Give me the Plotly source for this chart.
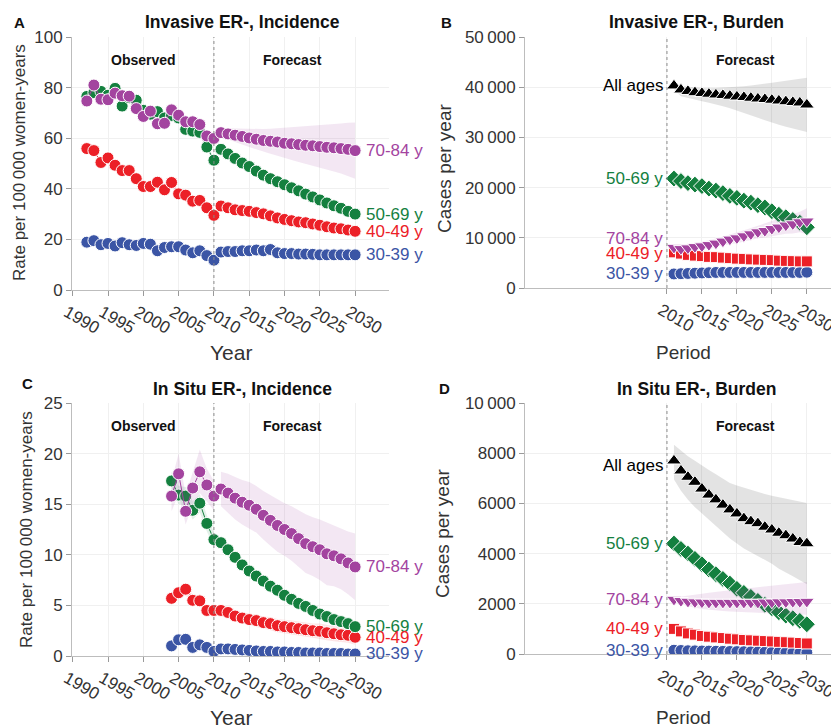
import plotly.graph_objects as go

# ---------------- data ----------------
obs_years_A = [1992, 1993, 1994, 1995, 1996, 1997, 1998, 1999, 2000, 2001,
               2002, 2003, 2004, 2005, 2006, 2007, 2008, 2009, 2010]
obs_years_C = [2004, 2005, 2006, 2007, 2008, 2009, 2010]
fc_years = [2011, 2012, 2013, 2014, 2015, 2016, 2017, 2018, 2019, 2020,
            2021, 2022, 2023, 2024, 2025, 2026, 2027, 2028, 2029, 2030]

age_groups = ["30-39 y", "40-49 y", "50-69 y", "70-84 y", "All ages"]

# Panel A: Invasive ER-, incidence (rate per 100 000 women-years)
A_obs_30 = [18.9, 19.5, 17.9, 18.4, 17.4, 18.7, 17.9, 17.6, 18.4, 18.1, 15.5, 16.8, 17.1, 17.1, 15.8, 14.7, 15.5, 13.6, 11.8]
A_obs_40 = [55.9, 55.1, 50.4, 52.2, 49.3, 47.2, 47.2, 44.0, 40.9, 40.9, 42.6, 39.6, 42.5, 38.0, 37.5, 35.1, 35.4, 32.5, 29.5]
A_obs_50 = [76.5, 78.0, 78.5, 77.0, 79.7, 72.7, 76.0, 75.0, 71.0, 69.5, 70.5, 68.0, 69.0, 68.0, 63.5, 62.8, 62.3, 56.5, 51.3]
A_obs_70 = [74.7, 81.0, 75.4, 75.2, 77.8, 76.8, 76.6, 71.7, 68.6, 70.7, 65.7, 65.9, 71.2, 69.1, 66.5, 66.5, 65.4, 60.9, 59.9]
A_obs_50_lo = [75.4, 76.9, 77.4, 75.9, 78.6, 71.6, 74.9, 73.9, 69.9, 68.4, 69.4, 66.9, 67.9, 66.9, 62.4, 61.7, 61.2, 55.5, 50.3]
A_obs_50_hi = [77.6, 79.1, 79.6, 78.1, 80.8, 73.8, 77.1, 76.1, 72.1, 70.6, 71.6, 69.1, 70.1, 69.1, 64.6, 63.9, 63.4, 57.5, 52.3]
A_obs_70_lo = [73.3, 79.0, 73.8, 73.6, 76.2, 75.2, 75.0, 70.2, 67.1, 69.1, 64.2, 64.4, 69.6, 67.6, 65.0, 65.0, 63.9, 59.5, 58.5]
A_obs_70_hi = [76.1, 83.0, 77.0, 76.8, 79.4, 78.4, 78.2, 73.2, 70.1, 72.3, 67.2, 67.4, 72.8, 70.6, 68.0, 68.0, 66.9, 62.3, 61.3]

A_fc_30 = [15.0, 15.2, 15.2, 15.5, 15.5, 15.8, 15.5, 16.0, 14.7, 14.4, 14.4, 14.2, 14.2, 14.1, 13.9, 13.9, 13.9, 13.9, 13.9, 13.9]
A_fc_40 = [33.2, 32.5, 31.7, 31.4, 31.1, 30.6, 30.1, 29.3, 28.5, 27.9, 27.4, 26.9, 26.6, 26.1, 25.6, 25.0, 24.5, 24.2, 23.7, 23.2]
A_fc_50 = [55.6, 53.8, 52.0, 50.2, 48.8, 47.0, 45.4, 44.0, 42.8, 41.6, 40.4, 39.2, 37.9, 36.8, 35.6, 34.4, 33.3, 32.3, 31.1, 30.0]
A_fc_70 = [62.2, 61.7, 61.2, 60.7, 60.1, 59.6, 59.1, 58.8, 58.5, 58.0, 57.8, 57.5, 57.2, 57.0, 56.7, 56.4, 56.2, 55.9, 55.6, 55.1]
A_fc_70_lo = [60.4, 59.5, 58.6, 57.6, 56.5, 55.6, 54.6, 53.9, 53.1, 52.1, 51.4, 50.6, 49.8, 49.1, 48.3, 47.5, 46.8, 46.0, 45.1, 44.0]
A_fc_70_hi = [64.0, 63.9, 63.8, 63.8, 63.7, 63.6, 63.6, 63.7, 63.9, 63.9, 64.2, 64.4, 64.6, 64.9, 65.1, 65.3, 65.6, 65.8, 66.1, 66.2]

# Panel C: In situ ER-, incidence
C_obs_30 = [1.0, 1.6, 1.65, 0.85, 1.1, 0.85, 0.45]
C_obs_40 = [5.7, 6.25, 6.6, 5.5, 5.45, 4.5, 4.5]
C_obs_50 = [17.3, 15.9, 15.8, 14.4, 15.1, 13.1, 11.5]
C_obs_70 = [15.8, 18.0, 14.3, 16.6, 18.2, 16.9, 15.8]
C_obs_40_lo = [5.2, 5.7, 6.0, 5.0, 5.0, 4.1, 4.1]
C_obs_40_hi = [6.2, 6.8, 7.2, 6.0, 6.0, 4.9, 4.9]
C_obs_50_lo = [16.4, 15.0, 14.9, 13.5, 14.2, 12.3, 10.8]
C_obs_50_hi = [18.2, 16.8, 16.7, 15.3, 16.0, 13.9, 12.2]
C_obs_70_lo = [14.3, 16.0, 13.0, 15.0, 16.1, 15.3, 14.4]
C_obs_70_hi = [17.3, 20.0, 15.9, 18.2, 20.4, 18.5, 17.3]

C_fc_30 = [0.7, 0.7, 0.65, 0.6, 0.55, 0.5, 0.45, 0.45, 0.4, 0.4, 0.35, 0.35, 0.3, 0.3, 0.3, 0.25, 0.25, 0.25, 0.2, 0.2]
C_fc_40 = [4.5, 4.3, 3.95, 3.75, 3.6, 3.5, 3.3, 3.2, 3.0, 2.9, 2.8, 2.7, 2.6, 2.5, 2.45, 2.3, 2.2, 2.1, 2.05, 1.85]
C_fc_50 = [11.2, 10.5, 9.75, 9.0, 8.4, 7.9, 7.4, 6.9, 6.5, 6.0, 5.6, 5.2, 4.9, 4.5, 4.15, 3.9, 3.6, 3.4, 3.2, 2.9]
C_fc_70 = [16.5, 16.1, 15.6, 15.2, 14.9, 14.5, 13.9, 13.4, 12.9, 12.5, 12.1, 11.6, 11.1, 10.8, 10.5, 10.1, 9.9, 9.6, 9.2, 8.8]
C_fc_40_lo = [4.0, 3.8, 3.45, 3.2, 3.05, 2.9, 2.7, 2.55, 2.35, 2.2, 2.1, 2.0, 1.9, 1.8, 1.7, 1.55, 1.45, 1.35, 1.3, 1.1]
C_fc_40_hi = [5.0, 4.8, 4.5, 4.3, 4.2, 4.1, 3.9, 3.85, 3.65, 3.6, 3.5, 3.4, 3.3, 3.2, 3.2, 3.05, 2.95, 2.85, 2.8, 2.6]
C_fc_50_lo = [10.5, 9.9, 9.2, 8.5, 8.0, 7.5, 7.0, 6.6, 6.2, 5.7, 5.3, 5.0, 4.7, 4.3, 4.0, 3.7, 3.4, 3.2, 3.0, 2.7]
C_fc_50_hi = [11.9, 11.1, 10.3, 9.5, 8.8, 8.3, 7.8, 7.2, 6.8, 6.3, 5.9, 5.4, 5.1, 4.7, 4.3, 4.1, 3.8, 3.6, 3.4, 3.1]
C_fc_70_lo = [14.8, 14.2, 13.5, 13.0, 12.6, 12.2, 11.5, 10.9, 10.3, 9.9, 9.4, 8.8, 8.2, 7.9, 7.5, 7.0, 6.9, 6.6, 6.1, 5.5]
C_fc_70_hi = [18.2, 18.0, 17.7, 17.4, 17.2, 16.8, 16.3, 15.9, 15.5, 15.1, 14.8, 14.4, 14.0, 13.7, 13.5, 13.2, 12.9, 12.6, 12.3, 12.1]

# Panel B: Invasive ER-, burden (cases per year)
B_30 = [2800, 2850, 2900, 2950, 3000, 3050, 3100, 3100, 3100, 3100, 3100, 3100, 3100, 3100, 3100, 3100, 3100, 3100, 3100, 3150]
B_40 = [7100, 6850, 6600, 6450, 6350, 6200, 6150, 6050, 5950, 5850, 5800, 5700, 5650, 5600, 5550, 5450, 5400, 5350, 5300, 5300]
B_50 = [21800, 21300, 20900, 20600, 20300, 19800, 19400, 18900, 18350, 17950, 17400, 17000, 16500, 16050, 15300, 14600, 14100, 13550, 13000, 12100]
B_50_lo = [21500, 20950, 20500, 20150, 19800, 19250, 18800, 18250, 17650, 17200, 16600, 16150, 15600, 15100, 14300, 13550, 13000, 12400, 11800, 10850]
B_50_hi = [22100, 21650, 21300, 21050, 20800, 20350, 20000, 19550, 19050, 18700, 18200, 17850, 17400, 17000, 16300, 15650, 15200, 14700, 14200, 13350]
B_70 = [8050, 7800, 7950, 8200, 8350, 8600, 8900, 9300, 9700, 9950, 10350, 10750, 11150, 11400, 11800, 12100, 12500, 12750, 13150, 13300]
B_70_lo = [7700, 7350, 7400, 7600, 7650, 7850, 8050, 8400, 8750, 8900, 9200, 9550, 9900, 10050, 10350, 10500, 10800, 10850, 11100, 10700]
B_70_hi = [8400, 8300, 8500, 8850, 9050, 9400, 9750, 10200, 10650, 11000, 11500, 11950, 12400, 12800, 13300, 13700, 14200, 14700, 15200, 15900]
B_all = [40300, 39500, 39200, 38950, 38800, 38650, 38500, 38400, 38250, 38100, 38000, 37850, 37700, 37600, 37450, 37300, 37150, 37000, 36900, 36500]
B_all_lo = [39500, 38200, 37800, 37500, 37200, 36900, 36600, 36200, 35800, 35300, 34900, 34400, 33900, 33400, 32900, 32500, 32100, 31700, 31400, 31100]
B_all_hi = [40600, 40300, 40100, 39950, 39800, 39800, 39850, 39900, 40000, 40100, 40200, 40350, 40500, 40700, 40900, 41100, 41300, 41500, 41700, 41900]

# Panel D: In situ ER-, burden
D_30 = [150, 140, 130, 125, 120, 115, 110, 105, 100, 95, 90, 85, 80, 75, 70, 65, 60, 55, 50, 50]
D_40 = [1000, 900, 820, 770, 720, 690, 660, 635, 610, 585, 560, 545, 530, 515, 500, 485, 470, 455, 440, 420]
D_40_lo = [950, 840, 750, 690, 630, 590, 550, 520, 490, 455, 420, 400, 380, 360, 335, 315, 290, 270, 245, 210]
D_40_hi = [1050, 960, 890, 850, 810, 790, 770, 750, 730, 715, 700, 690, 680, 670, 665, 655, 650, 640, 635, 630]
D_50 = [4400, 4185, 4000, 3790, 3575, 3365, 3180, 2990, 2805, 2595, 2435, 2275, 2115, 1960, 1825, 1665, 1530, 1425, 1320, 1185]
D_50_lo = [4300, 4080, 3890, 3680, 3460, 3250, 3060, 2870, 2680, 2470, 2300, 2140, 1980, 1820, 1680, 1520, 1380, 1270, 1160, 1020]
D_50_hi = [4500, 4290, 4110, 3900, 3690, 3480, 3300, 3110, 2930, 2720, 2570, 2410, 2250, 2100, 1970, 1810, 1680, 1580, 1480, 1350]
D_70 = [2170, 2120, 2090, 2070, 2060, 2050, 2050, 2050, 2050, 2050, 2050, 2050, 2050, 2060, 2060, 2070, 2070, 2080, 2080, 2090]
D_70_lo = [2090, 1980, 1900, 1840, 1790, 1760, 1730, 1710, 1690, 1670, 1650, 1640, 1630, 1620, 1610, 1600, 1590, 1580, 1570, 1560]
D_70_hi = [2250, 2280, 2320, 2360, 2400, 2440, 2480, 2510, 2540, 2570, 2600, 2630, 2660, 2690, 2720, 2750, 2780, 2810, 2840, 2870]
D_all = [7700, 7300, 7050, 6850, 6580, 6340, 6150, 5940, 5750, 5590, 5400, 5280, 5200, 5060, 4950, 4820, 4720, 4590, 4450, 4400]
D_all_lo = [6950, 6500, 6150, 5850, 5600, 5350, 5100, 4850, 4600, 4400, 4200, 4050, 3900, 3750, 3600, 3400, 3250, 3100, 2950, 2780]
D_all_hi = [8340, 8100, 7880, 7700, 7500, 7330, 7160, 7000, 6810, 6710, 6620, 6540, 6460, 6370, 6300, 6240, 6180, 6120, 6070, 6020]

rate_ticks_A = [0, 20, 40, 60, 80, 100]
rate_ticks_C = [0, 5, 10, 15, 20, 25]
burden_ticks_B = [0, 10000, 20000, 30000, 40000, 50000]
burden_text_B = ["0", "10\u2009000", "20\u2009000", "30\u2009000", "40\u2009000", "50\u2009000"]
burden_ticks_D = [0, 2000, 4000, 6000, 8000, 10000]
burden_text_D = ["0", "2000", "4000", "6000", "8000", "10\u2009000"]
year_ticks_full = [1990, 1995, 2000, 2005, 2010, 2015, 2020, 2025, 2030]
year_ticks_fc = [2010, 2015, 2020, 2025, 2030]

# ---------------- style ----------------
COL = {"30-39 y": "#3B55A5", "40-49 y": "#EC2027", "50-69 y": "#14803F",
       "70-84 y": "#A3449F", "All ages": "#000000"}
BAND = {"30-39 y": "rgba(59,85,165,0.12)", "40-49 y": "rgba(236,32,39,0.12)",
        "50-69 y": "rgba(20,128,63,0.12)", "70-84 y": "rgba(163,68,159,0.13)",
        "All ages": "rgba(0,0,0,0.11)"}
SYM = {"30-39 y": "circle", "40-49 y": "square", "50-69 y": "diamond",
       "70-84 y": "triangle-down", "All ages": "triangle-up"}
MSIZE = {"30-39 y": 12, "40-49 y": 11, "50-69 y": 13, "70-84 y": 13, "All ages": 13}
FONT = "Liberation Sans, Arial, Helvetica, sans-serif"
PAGE_OFF = 8          # default body margin of the page
W, H = 839 - PAGE_OFF, 728 - PAGE_OFF

fig = go.Figure()


def band(x, lo, hi, key, xa, ya):
    fig.add_trace(go.Scatter(x=list(x) + list(x)[::-1], y=list(hi) + list(lo)[::-1],
                             fill="toself", fillcolor=BAND[key], line=dict(width=0),
                             mode="lines", hoverinfo="skip", xaxis=xa, yaxis=ya))


def series(x, y, key, xa, ya, symbol="circle", size=12, lines=True):
    fig.add_trace(go.Scatter(x=x, y=y, mode="lines+markers" if lines else "markers",
                             line=dict(color=COL[key], width=1),
                             marker=dict(symbol=symbol, size=size, color=COL[key],
                                         line=dict(color="white", width=1)),
                             xaxis=xa, yaxis=ya, name=key))


# Panel A
series(obs_years_A, A_obs_30, "30-39 y", "x", "y")
series(fc_years, A_fc_30, "30-39 y", "x", "y")
series(obs_years_A, A_obs_40, "40-49 y", "x", "y")
series(fc_years, A_fc_40, "40-49 y", "x", "y")
band(obs_years_A, A_obs_50_lo, A_obs_50_hi, "50-69 y", "x", "y")
series(obs_years_A, A_obs_50, "50-69 y", "x", "y")
series(fc_years, A_fc_50, "50-69 y", "x", "y")
band(obs_years_A, A_obs_70_lo, A_obs_70_hi, "70-84 y", "x", "y")
series(obs_years_A, A_obs_70, "70-84 y", "x", "y")
band(fc_years, A_fc_70_lo, A_fc_70_hi, "70-84 y", "x", "y")
series(fc_years, A_fc_70, "70-84 y", "x", "y")

# Panel C
series(obs_years_C, C_obs_30, "30-39 y", "x3", "y3")
series(fc_years, C_fc_30, "30-39 y", "x3", "y3")
band(obs_years_C, C_obs_40_lo, C_obs_40_hi, "40-49 y", "x3", "y3")
band(fc_years, C_fc_40_lo, C_fc_40_hi, "40-49 y", "x3", "y3")
series(obs_years_C, C_obs_40, "40-49 y", "x3", "y3")
series(fc_years, C_fc_40, "40-49 y", "x3", "y3")
band(obs_years_C, C_obs_50_lo, C_obs_50_hi, "50-69 y", "x3", "y3")
band(fc_years, C_fc_50_lo, C_fc_50_hi, "50-69 y", "x3", "y3")
series(obs_years_C, C_obs_50, "50-69 y", "x3", "y3")
series(fc_years, C_fc_50, "50-69 y", "x3", "y3")
band(obs_years_C, C_obs_70_lo, C_obs_70_hi, "70-84 y", "x3", "y3")
band(fc_years, C_fc_70_lo, C_fc_70_hi, "70-84 y", "x3", "y3")
series(obs_years_C, C_obs_70, "70-84 y", "x3", "y3")
series(fc_years, C_fc_70, "70-84 y", "x3", "y3")

# Panel B
for key, vals, lo, hi in [("30-39 y", B_30, None, None), ("40-49 y", B_40, None, None),
                          ("50-69 y", B_50, B_50_lo, B_50_hi), ("70-84 y", B_70, B_70_lo, B_70_hi),
                          ("All ages", B_all, B_all_lo, B_all_hi)]:
    if lo is not None:
        band(fc_years, lo, hi, key, "x2", "y2")
    series(fc_years, vals, key, "x2", "y2", SYM[key], MSIZE[key], lines=False)

# Panel D
for key, vals, lo, hi in [("30-39 y", D_30, None, None), ("40-49 y", D_40, D_40_lo, D_40_hi),
                          ("50-69 y", D_50, D_50_lo, D_50_hi), ("70-84 y", D_70, D_70_lo, D_70_hi),
                          ("All ages", D_all, D_all_lo, D_all_hi)]:
    if lo is not None:
        band(fc_years, lo, hi, key, "x4", "y4")
    series(fc_years, vals, key, "x4", "y4", SYM[key], MSIZE[key], lines=False)

# ---------------- axes ----------------
def px_x(a, b):
    return [(a - PAGE_OFF) / W, min(1.0, (b - PAGE_OFF) / W)]


def px_y(top, bottom):
    return [1 - (bottom - PAGE_OFF) / H, 1 - (top - PAGE_OFF) / H]


common_x = dict(showline=True, linecolor="#bdbdbd", linewidth=1, ticks="outside",
                ticklen=5, tickcolor="#9a9a9a", showgrid=True, gridcolor="#f0f0f0",
                zeroline=False, tickangle=30, automargin=False, ticklabeloverflow="allow",
                ticklabelshift=-6, tickfont=dict(size=17, color="#333"))
common_y = dict(showline=True, linecolor="#bdbdbd", linewidth=1, ticks="outside",
                ticklen=5, tickcolor="#9a9a9a", showgrid=True, gridcolor="#f0f0f0",
                zeroline=False, automargin=False, tickfont=dict(size=17, color="#333"))

fig.update_layout(
    width=W, height=H, margin=dict(l=0, r=0, t=0, b=0, autoexpand=False),
    plot_bgcolor="white", paper_bgcolor="white", showlegend=False,
    font=dict(family=FONT, color="#222"),
    xaxis=dict(domain=px_x(72, 389), range=[1989.9, 2034.8], tickvals=year_ticks_full,
               anchor="y", **common_x),
    yaxis=dict(domain=px_y(37, 290), range=[0, 100], tickvals=rate_ticks_A,
               anchor="x", **common_y),
    xaxis2=dict(domain=px_x(525, 839), range=[1989.7, 2034.6], tickvals=year_ticks_fc,
                anchor="y2", **common_x),
    yaxis2=dict(domain=px_y(37, 288), range=[0, 50000], tickvals=burden_ticks_B,
                ticktext=burden_text_B, anchor="x2", **common_y),
    xaxis3=dict(domain=px_x(72, 389), range=[1989.9, 2034.8], tickvals=year_ticks_full,
                anchor="y3", **common_x),
    yaxis3=dict(domain=px_y(403, 656), range=[0, 25], tickvals=rate_ticks_C,
                anchor="x3", **common_y),
    xaxis4=dict(domain=px_x(525, 839), range=[1989.7, 2034.6], tickvals=year_ticks_fc,
                anchor="y4", **common_x),
    yaxis4=dict(domain=px_y(403, 654), range=[0, 10000], tickvals=burden_ticks_D,
                ticktext=burden_text_D, anchor="x4", **common_y),
)

# dotted separator at 2010
for xa, ya in [("x", "y"), ("x2", "y2"), ("x3", "y3"), ("x4", "y4")]:
    fig.add_shape(type="line", xref=xa, yref=ya + " domain", x0=2010, x1=2010, y0=0, y1=1,
                  line=dict(color="#8a8a8a", width=1, dash="dot"))

ann = []


def paper_text(text, x, y, size, bold=False, color="#111", angle=0, xanchor="center"):
    ann.append(dict(text="<b>%s</b>" % text if bold else text,
                    x=(x - PAGE_OFF) / W, y=1 - (y - PAGE_OFF) / H,
                    xref="paper", yref="paper", showarrow=False, xanchor=xanchor,
                    yanchor="middle", textangle=angle,
                    font=dict(size=size, color=color, family=FONT)))


# panel letters and titles
paper_text("A", 19, 22, 15, True)
paper_text("B", 446, 22, 15, True)
paper_text("C", 27, 383, 15, True)
paper_text("D", 445, 388, 15, True)
paper_text("Invasive ER-, Incidence", 242, 22, 17.5, True)
paper_text("Invasive ER-, Burden", 696, 22, 17.5, True)
paper_text("In Situ ER-, Incidence", 242, 389, 17.5, True)
paper_text("In Situ ER-, Burden", 696, 389, 17.5, True)

# axis titles
paper_text("Year", 231, 352, 21, color="#333")
paper_text("Year", 231, 717, 21, color="#333")
paper_text("Period", 683, 352, 19, color="#333")
paper_text("Period", 683, 717, 19, color="#333")
paper_text("Rate per 100\u2009000 women-years", 19, 163, 17, color="#333", angle=-90)
paper_text("Rate per 100\u2009000 women-years", 26, 530, 17, color="#333", angle=-90)
paper_text("Cases per year", 444, 168, 19, color="#333", angle=-90)
paper_text("Cases per year", 442, 533, 19, color="#333", angle=-90)

# Observed / Forecast
for xa, ya, has_obs in [("x", "y", True), ("x2", "y2", False), ("x3", "y3", True), ("x4", "y4", False)]:
    if has_obs:
        ann.append(dict(text="<b>Observed</b>", x=2000, y=0.95, xref=xa, yref=ya + " domain",
                        showarrow=False, font=dict(size=14, color="#111", family=FONT)))
    ann.append(dict(text="<b>Forecast</b>", x=2021.2, y=0.95, xref=xa, yref=ya + " domain",
                    showarrow=False, font=dict(size=14, color="#111", family=FONT)))

# series labels at end (incidence) / start (burden)
for key, a_last, c_last in [("70-84 y", A_fc_70, C_fc_70), ("50-69 y", A_fc_50, C_fc_50),
                            ("40-49 y", A_fc_40, C_fc_40), ("30-39 y", A_fc_30, C_fc_30)]:
    for xa, ya, vals in [("x", "y", a_last), ("x3", "y3", c_last)]:
        ann.append(dict(text=key, x=fc_years[-1], y=vals[-1], xref=xa, yref=ya,
                        xanchor="left", yanchor="middle", xshift=9, showarrow=False,
                        font=dict(size=17, color=COL[key], family=FONT)))

label_shift = {"x2": {"70-84 y": 9, "40-49 y": -1}, "x4": {"All ages": -5}}
for xa, ya, sets in [("x2", "y2", [("All ages", B_all), ("50-69 y", B_50), ("70-84 y", B_70),
                                   ("40-49 y", B_40), ("30-39 y", B_30)]),
                     ("x4", "y4", [("All ages", D_all), ("50-69 y", D_50), ("70-84 y", D_70),
                                   ("40-49 y", D_40), ("30-39 y", D_30)])]:
    for key, vals in sets:
        ysh = label_shift[xa].get(key, 0)
        ann.append(dict(text=key, x=2010, y=vals[0], xref=xa, yref=ya, xanchor="right",
                        yanchor="middle", xshift=-2, yshift=ysh, showarrow=False,
                        font=dict(size=17, color=COL[key], family=FONT)))

fig.update_layout(annotations=ann)
fig.write_html("out.html")
